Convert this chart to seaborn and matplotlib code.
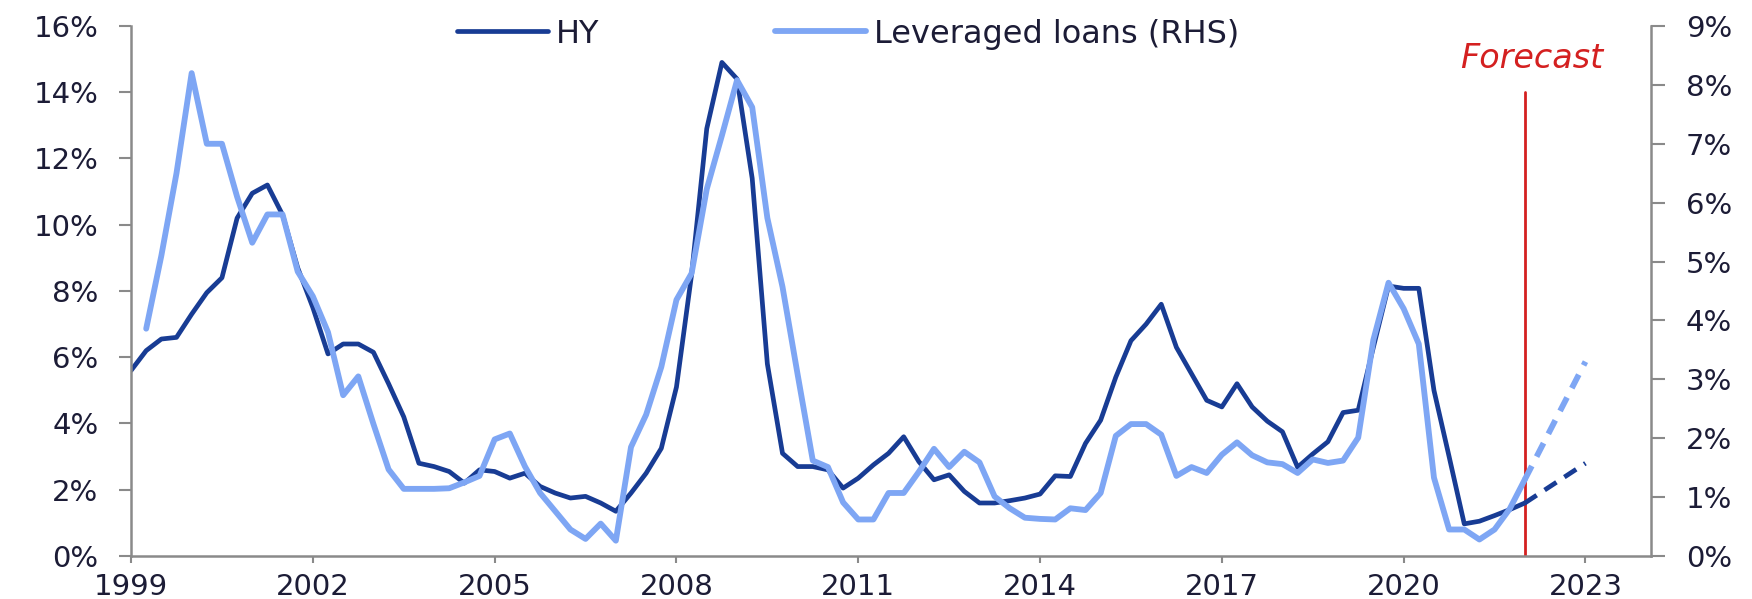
import numpy as np
import matplotlib
matplotlib.use('Agg')
import matplotlib.pyplot as plt
import seaborn as sns
from matplotlib.ticker import FuncFormatter

# quarterly default rates (%), HY starts at 1999.0, leveraged loans one quarter later
hy_rate = [
    5.6, 6.2, 6.55, 6.6,
    7.3, 7.95, 8.4, 10.2,
    10.95, 11.2, 10.3, 8.7,
    7.5, 6.1, 6.4, 6.4,
    6.15, 5.2, 4.2, 2.8,
    2.7, 2.55, 2.2, 2.6,
    2.55, 2.35, 2.5, 2.1,
    1.9, 1.75, 1.8, 1.6,
    1.35, 1.9, 2.5, 3.25,
    5.1, 8.5, 12.9, 14.9,
    14.4, 11.4, 5.8, 3.1,
    2.7, 2.7, 2.6, 2.05,
    2.35, 2.75, 3.1, 3.6,
    2.85, 2.3, 2.45, 1.95,
    1.6, 1.6, 1.67, 1.75,
    1.87, 2.42, 2.4, 3.4,
    4.1, 5.4, 6.5, 7.0,
    7.6, 6.3, 5.5, 4.7,
    4.5, 5.2, 4.5, 4.07,
    3.75, 2.68, 3.08, 3.45,
    4.33, 4.4, 6.3, 8.15,
    8.08, 8.08, 5.0, 3.0,
    0.97, 1.05, 1.22, 1.4,
    1.6,
]
ll_rate = [
    3.86, 5.1, 6.5,
    8.2, 7.0, 7.0, 6.1,
    5.32, 5.8, 5.8, 4.83,
    4.41, 3.8, 2.73, 3.05,
    2.24, 1.47, 1.14, 1.14,
    1.14, 1.15, 1.25, 1.36,
    1.98, 2.08, 1.52, 1.07,
    0.76, 0.45, 0.29, 0.55,
    0.26, 1.85, 2.4, 3.21,
    4.35, 4.8, 6.23, 7.14,
    8.08, 7.62, 5.74, 4.57,
    3.08, 1.62, 1.51, 0.91,
    0.62, 0.62, 1.07, 1.07,
    1.43, 1.82, 1.51, 1.77,
    1.59, 1.01, 0.81, 0.65,
    0.63, 0.62, 0.81, 0.78,
    1.07, 2.04, 2.24, 2.24,
    2.06, 1.36, 1.51, 1.41,
    1.72, 1.93, 1.71, 1.59,
    1.56, 1.41, 1.64, 1.58,
    1.62, 2.01, 3.67, 4.64,
    4.2, 3.6, 1.33, 0.45,
    0.45, 0.28, 0.45, 0.8,
    1.3,
]
forecast_years = [2022.0, 2023.0]
hy_forecast = [1.6, 2.8]
ll_forecast = [1.3, 3.3]
year_ticks = [1999, 2002, 2005, 2008, 2011, 2014, 2017, 2020, 2023]
forecast_start = 2022.0

hy_years = 1999.0 + 0.25 * np.arange(len(hy_rate))
ll_years = 1999.25 + 0.25 * np.arange(len(ll_rate))

HY_COLOR = '#183c94'
LL_COLOR = '#7ea6f4'
RED = '#d42020'
GREY = '#8a8a8a'
TEXT = '#1c1c36'

sns.set_style('white')
plt.rcParams['font.family'] = ['DejaVu Sans']

fig, ax = plt.subplots(figsize=(17.52, 5.99), dpi=100)
fig.subplots_adjust(left=0.0748, right=0.9423, bottom=0.0718, top=0.9566)
ax2 = ax.twinx()

# HY on left axis
sns.lineplot(x=hy_years, y=hy_rate, ax=ax, color=HY_COLOR, linewidth=3.4)
sns.lineplot(x=forecast_years, y=hy_forecast, ax=ax, color=HY_COLOR,
             linewidth=3.4, linestyle=(0, (3, 2)))

# leveraged loans on right axis
sns.lineplot(x=ll_years, y=ll_rate, ax=ax2, color=LL_COLOR, linewidth=4.2)
sns.lineplot(x=forecast_years, y=ll_forecast, ax=ax2, color=LL_COLOR,
             linewidth=4.2, linestyle=(0, (2.6, 1.8)))

# forecast marker
ax.plot([forecast_start, forecast_start], [0, 14], color=RED, linewidth=2, zorder=1)
ax.text(2022.12, 15.03, 'Forecast', color=RED, style='italic', fontsize=24,
        ha='center', va='center')

ax.set_xlim(1999, 2024.08)
ax.set_ylim(0, 16)
ax2.set_ylim(0, 9)
ax.set_xticks(year_ticks)
ax.set_xticklabels([str(y) for y in year_ticks])
ax.set_yticks(range(0, 17, 2))
ax2.set_yticks(range(0, 10))
pct = FuncFormatter(lambda v, p: f'{v:.0f}%')
ax.yaxis.set_major_formatter(pct)
ax2.yaxis.set_major_formatter(pct)
ax.set_xlabel('')
ax.set_ylabel('')
ax2.set_ylabel('')

for a in (ax, ax2):
    a.spines['top'].set_visible(False)
    for side in ('left', 'right', 'bottom'):
        a.spines[side].set_color(GREY)
        a.spines[side].set_linewidth(1.8)
ax.spines['right'].set_visible(False)
ax2.spines['left'].set_visible(False)
ax2.spines['bottom'].set_visible(False)

ax.tick_params(axis='y', direction='out', length=8.5, width=1.5, color=GREY,
               labelsize=21, labelcolor=TEXT, pad=15, left=True)
ax.tick_params(axis='x', direction='out', length=5, width=1.5, color=GREY,
               labelsize=21, labelcolor=TEXT, pad=7, bottom=True)
ax2.tick_params(axis='y', direction='out', length=10, width=1.5, color=GREY,
                labelsize=21, labelcolor=TEXT, pad=15, right=True)

handles = [ax.lines[0], ax2.lines[0]]
fig.legend(handles, ['HY', 'Leveraged loans (RHS)'], loc='center left',
           bbox_to_anchor=(457 / 1752, 0.943), ncol=2, frameon=False,
           fontsize=23, labelcolor=TEXT, handlelength=2.85, handletextpad=0.25,
           columnspacing=5.5, borderpad=0, borderaxespad=0)

fig.savefig('out.png', dpi=100)
